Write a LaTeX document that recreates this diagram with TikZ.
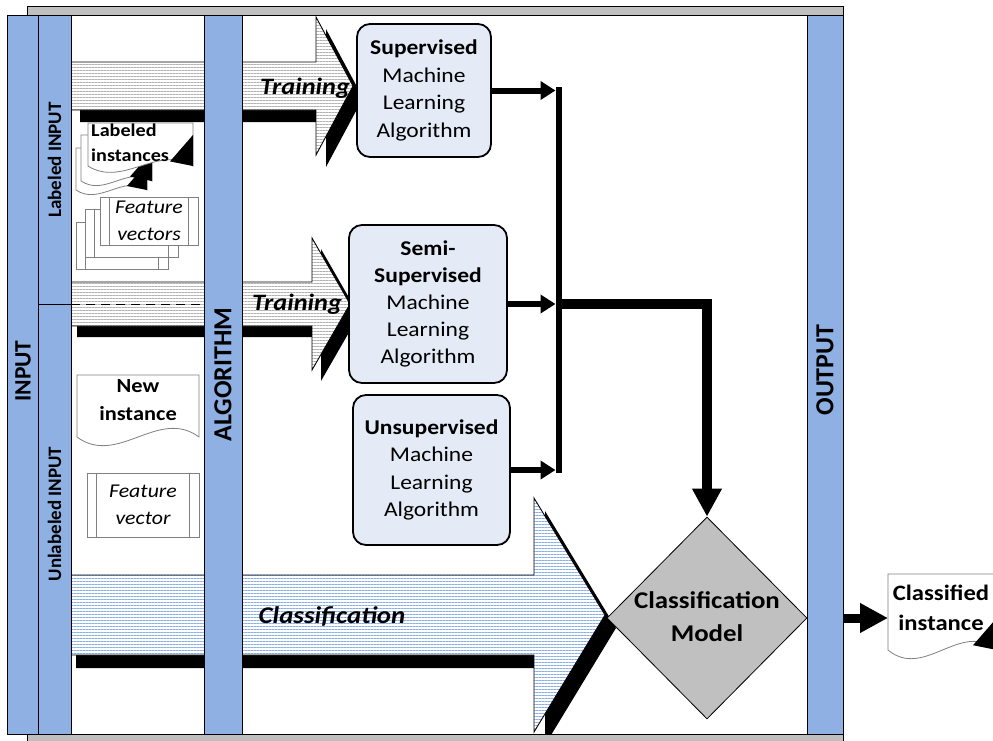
\documentclass[tikz,border=0pt]{standalone}
\usepackage{fontspec}
\setmainfont{Carlito}
\usetikzlibrary{arrows.meta,patterns.meta,shapes.geometric}

\definecolor{barblue}{RGB}{142,176,226}
\definecolor{boxfill}{RGB}{228,235,247}
\definecolor{modelgrey}{RGB}{192,192,192}
\definecolor{framegrey}{RGB}{191,191,191}
\definecolor{stripegrey}{RGB}{178,178,178}
\definecolor{stripeblue}{RGB}{138,174,228}
\definecolor{docline}{RGB}{128,128,128}

\newcommand\fsz[2]{\fontsize{#1}{#2}\selectfont}
% block arrow outline: tail x, head base x, tip x, axis y, half body, half head
\newcommand\blockarrow[6]{(#1,#4-#5) -- (#2,#4-#5) -- (#2,#4-#6) -- (#3,#4) -- (#2,#4+#6) -- (#2,#4+#5) -- (#1,#4+#5) -- cycle}
% sheet with a wavy lower edge: left, top, right, bottom, wave depth
\newcommand\docsheet[5]{(#1,#2) -- (#3,#2) -- (#3,#4) .. controls ({#3-(#3-#1)/3},{#4-#5}) and ({#1+(#3-#1)/3},{#4+#5}) .. (#1,#4) -- cycle}
% dark curl at the lower right corner of a sheet: right, bottom, size
\newcommand\sheetcurl[3]{(#1-#3,#2-0.2*#3) -- (#1,#2-1.35*#3) -- (#1,#2) -- cycle}
% predefined-process box: left, top, right, bottom
\newcommand\fvbox[4]{%
  \draw[fvline, fill=white] (#1,#2) rectangle (#3,#4);
  \draw[fvline] (#1+9,#2) -- (#1+9,#4) (#3-10,#2) -- (#3-10,#4);}

\begin{document}
\begin{tikzpicture}[x=1pt,y=-1pt,
  barnode/.style={draw=black, line width=1pt, fill=barblue, inner sep=0pt, outer sep=0pt, anchor=north west},
  mlbox/.style={draw=black, line width=1.8pt, fill=boxfill, rounded corners=13pt, inner sep=0pt},
  lbl/.style={inner sep=0pt, align=center, xscale=1.12},
  vlbl/.style={inner sep=0pt, rotate=90, font=\bfseries\fsz{19}{19}},
  sheet/.style={draw=docline, line width=0.8pt, fill=white},
  fvline/.style={draw=docline, line width=0.8pt},
  training/.style={preaction={fill=white}, pattern={Lines[angle=0,distance=3pt,line width=1pt]}, pattern color=stripegrey, draw=black, line width=0.9pt},
  classarrow/.style={training, pattern color=stripeblue},
  flow/.style={line width=6pt, -{Triangle[length=15pt,width=18pt]}, shorten >=3pt},
  bigflow/.style={line width=10pt, -{Triangle[length=28pt,width=28pt]}},
]
\path[use as bounding box] (0,0) rectangle (993,740);
\clip (0,0) rectangle (993,740);

% frame with its grey backing
\draw[fill=framegrey, line width=1pt] (27,6) rectangle (843,750);
\draw[fill=white, line width=1pt] (7.5,15) rectangle (843,734);

% block arrows with drop shadows
\begin{scope}
  \clip (7.5,15) rectangle (843,734);
  \fill[shift={(10,12)}] \blockarrow{70}{316}{353}{86}{24}{69};
  \path[training] \blockarrow{65}{316}{353}{86}{24}{69};
  \fill[shift={(9,11)}] \blockarrow{68}{312}{350}{304}{22}{66};
  \path[training] \blockarrow{65}{312}{350}{304}{22}{66};
  \fill[shift={(11,13)}] \blockarrow{65}{534}{605}{615}{40}{117};
  \path[classarrow] \blockarrow{65}{534}{605}{615}{40}{117};
  \draw[dash pattern=on 9pt off 6pt, line width=0.9pt] (71,304) -- (204,304);
\end{scope}

% vertical bands
\node[barnode, minimum width=30.5, minimum height=719] (inbar) at (7.5,15) {};
\node[barnode, minimum width=33, minimum height=289] (labbar) at (38,15) {};
\node[barnode, minimum width=33, minimum height=430] (unlabbar) at (38,304) {};
\node[barnode, minimum width=38, minimum height=719] (algbar) at (204,15) {};
\node[barnode, minimum width=36, minimum height=719] (outbar) at (807,15) {};

\node[vlbl, font=\bfseries\fsz{23.5}{23.5}] (inputlbl) at (23,371) {INPUT};
\node[vlbl] (lablbl) at (54.5,160) {Labeled INPUT};
\node[vlbl] (unlablbl) at (54.5,514) {Unlabeled INPUT};
\node[vlbl, font=\bfseries\fsz{26}{26}] (alglbl) at (223,374.5) {ALGORITHM};
\node[vlbl, font=\bfseries\fsz{26}{26}] (outlbl) at (825,370) {OUTPUT};

% labeled instances, back to front
\path[sheet] \docsheet{76}{148}{147}{190}{16};
\fill \sheetcurl{147}{190}{20};
\path[sheet] \docsheet{81}{135}{152}{181}{16};
\fill \sheetcurl{152}{181}{22};
\path[sheet] \docsheet{88}{123}{193}{166}{22};
\fill \sheetcurl{193}{166}{23};
\node[lbl, font=\bfseries\fsz{18}{25}, align=left, anchor=west] (labinst) at (91,142.5) {Labeled\\instances};

% feature vectors stack
\fvbox{76}{222}{168}{269}
\fvbox{85}{209}{178}{257}
\fvbox{100}{197}{198}{245}
\node[lbl, font=\itshape\fsz{19.5}{27}] (fvecs) at (149,221) {Feature\\vectors};

% unlabeled input items
\path[sheet] \docsheet{77}{375}{199}{437}{30};
\node[lbl, font=\bfseries\fsz{20}{28}] (newinst) at (138,400.5) {New\\instance};
\fvbox{87}{473}{199}{537}
\node[lbl, font=\itshape\fsz{19.5}{27.5}] (fvec) at (143,505) {Feature\\vector};

% arrow captions
\node[lbl, font=\bfseries\itshape\fsz{23.5}{28}, anchor=base] (train1) at (305,94) {Training};
\node[lbl, font=\bfseries\itshape\fsz{23.5}{28}, anchor=base] (train2) at (297,310.5) {Training};
\node[lbl, font=\bfseries\itshape\fsz{24}{28}, anchor=base] (classlbl) at (332,623) {Classification};

% learning algorithm boxes
\node[mlbox, minimum width=134, minimum height=133] (sup) at (424,90.5) {};
\node[lbl, font=\fsz{21}{27.5}] (suptxt) at (sup.center) {\textbf{Supervised}\\Machine\\Learning\\Algorithm};
\node[mlbox, minimum width=158, minimum height=158] (semi) at (428,304) {};
\node[lbl, font=\fsz{21}{27}] (semitxt) at (semi.center) {\textbf{Semi-}\\\textbf{Supervised}\\Machine\\Learning\\Algorithm};
\node[mlbox, minimum width=157, minimum height=150] (unsup) at (431.5,470) {};
\node[lbl, font=\fsz{21}{27.5}] (unsuptxt) at (unsup.center) {\textbf{Unsupervised}\\Machine\\Learning\\Algorithm};

% classification model
\node[diamond, draw=black, line width=0.8pt, fill=modelgrey, minimum width=200, minimum height=202, inner sep=0pt] (cm) at (707,618) {};
\node[lbl, font=\bfseries\fsz{24}{33}] (cmtxt) at (707,617) {Classification\\Model};

% collecting bus and connectors
\coordinate (busT) at (558.5,87);
\coordinate (busB) at (558.5,473);
\coordinate (junc) at (561.5,304);
\draw[line width=6pt] (busT) -- (busB);
\draw[flow] (sup.east) -- (sup.east -| busT);
\draw[flow] (semi.east) -- (semi.east -| busT);
\draw[flow] (unsup.east) -- (unsup.east -| busT);
\draw[bigflow] (junc) -| (cm.north);

% classified instance
\path[sheet] \docsheet{888}{574}{997}{650}{30};
\fill \sheetcurl{997}{650}{24};
\node[lbl, font=\bfseries\fsz{22}{30}] (clsinst) at (941,607.5) {Classified\\instance};
\coordinate (clsin) at (888,618);
\draw[bigflow, line width=9pt] (cm.east -| outbar.east) -- (clsin);
\end{tikzpicture}
\end{document}
